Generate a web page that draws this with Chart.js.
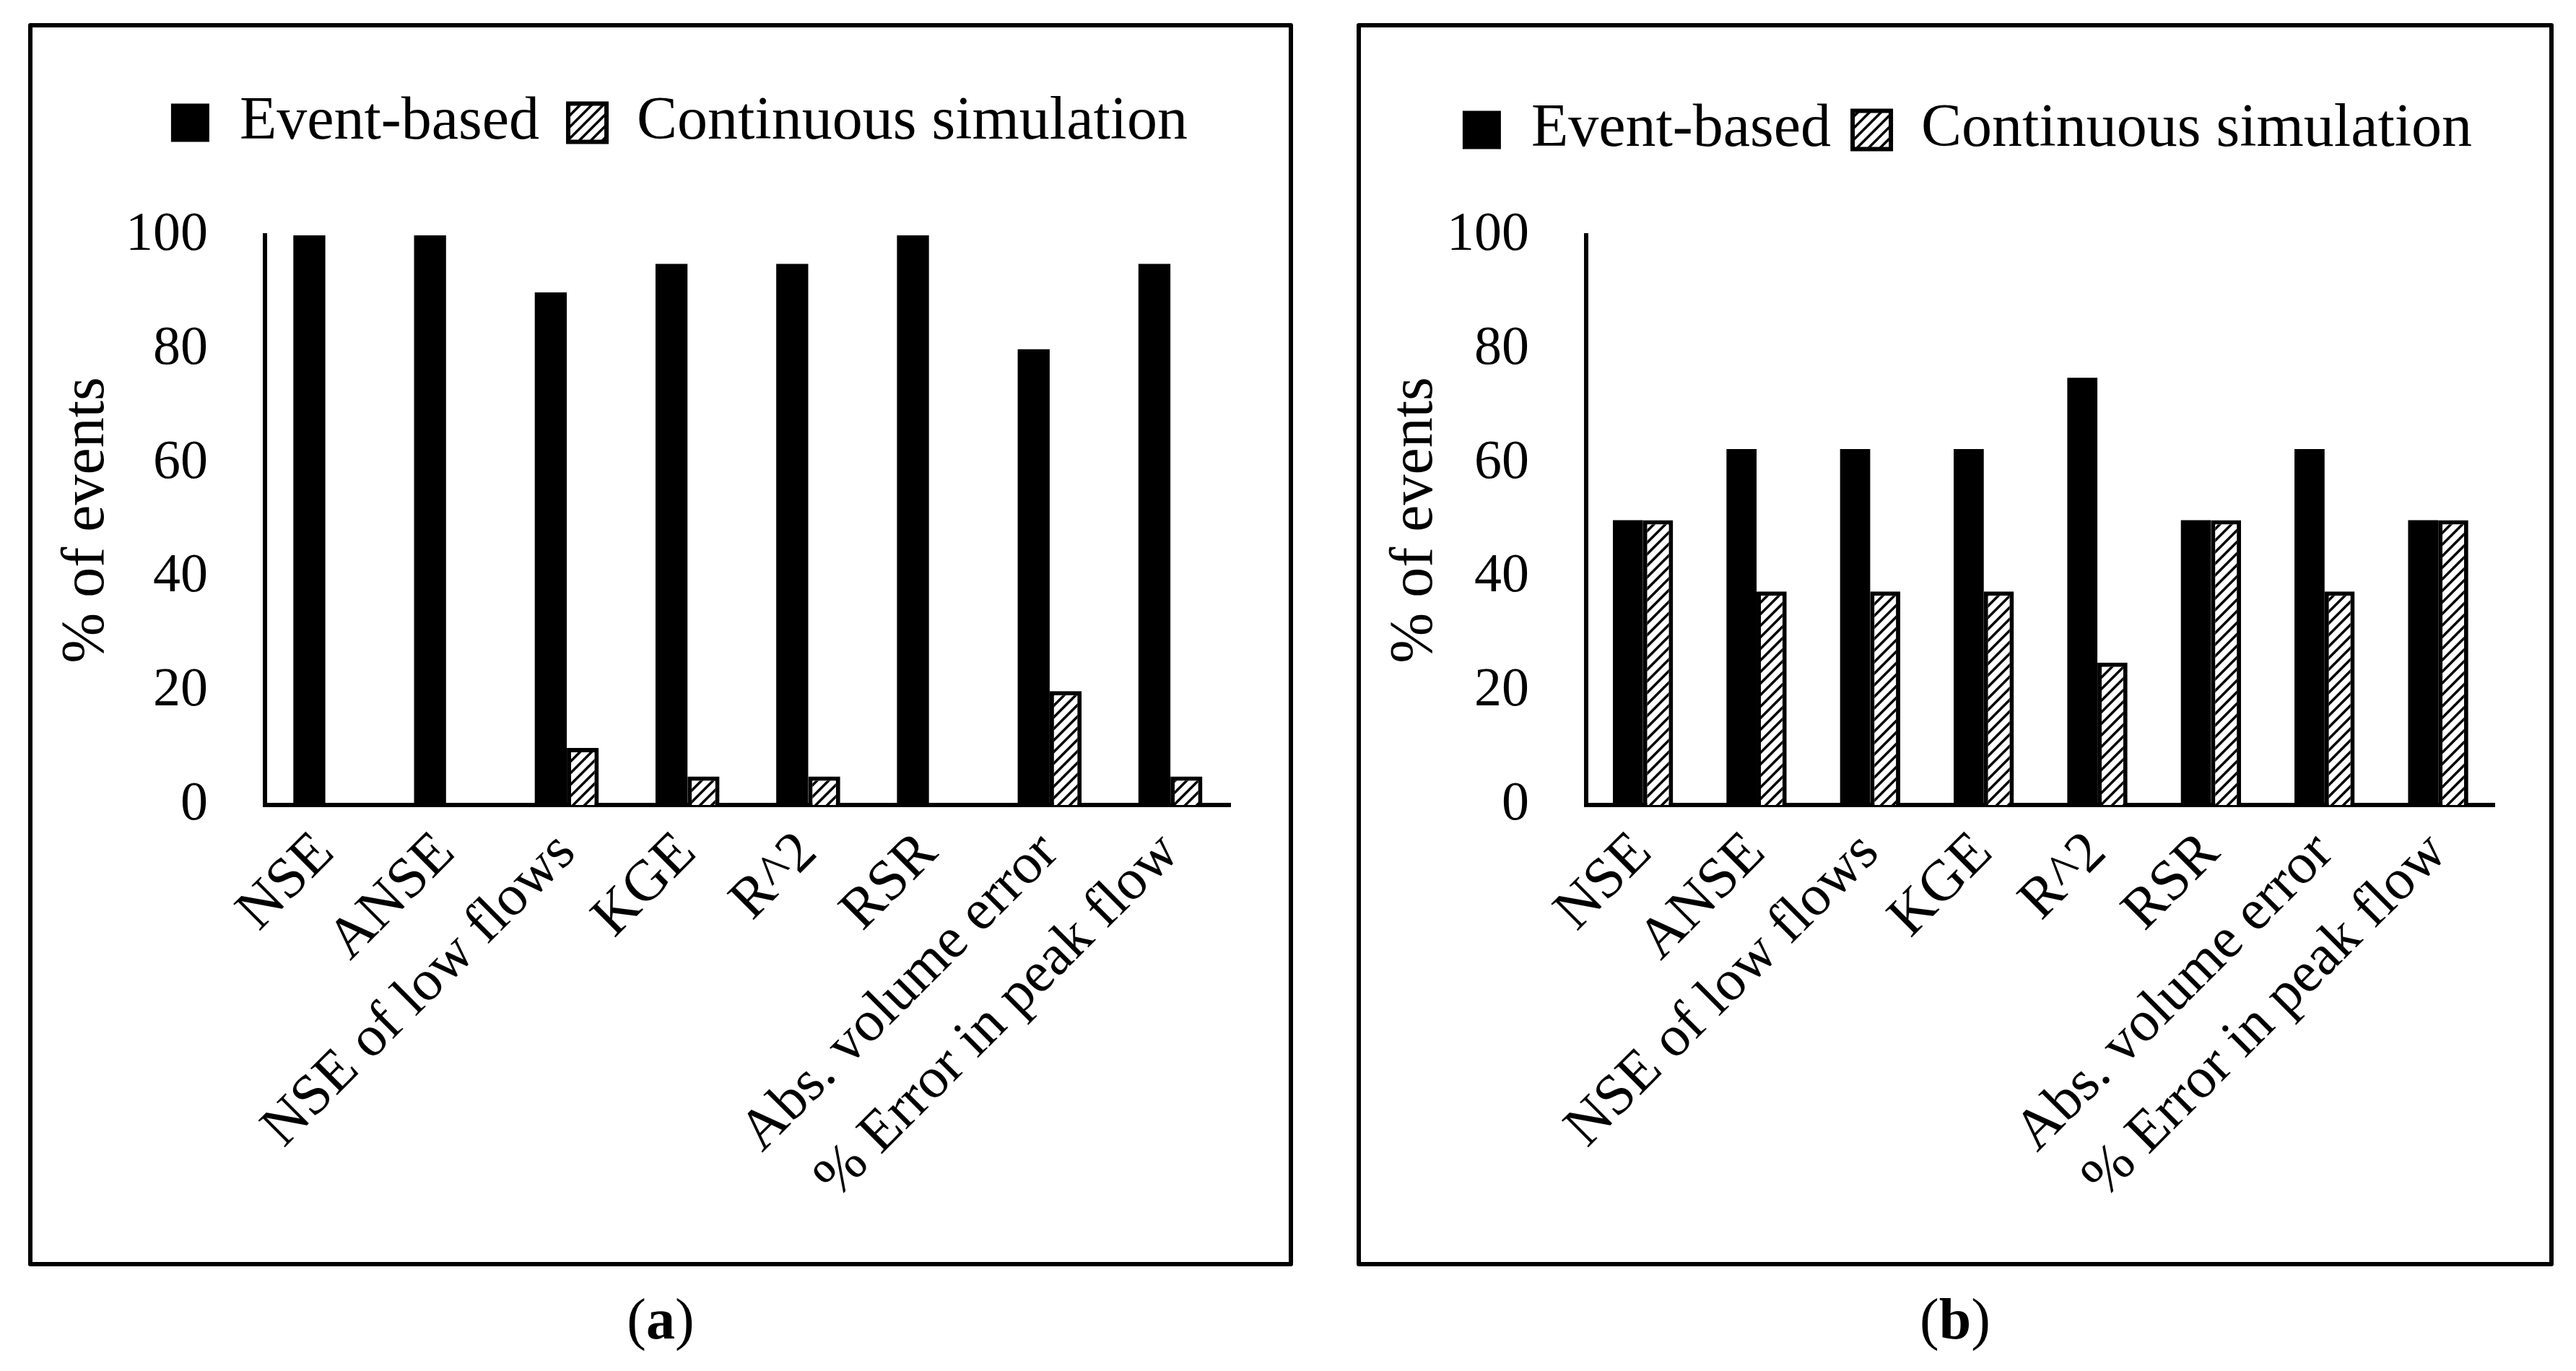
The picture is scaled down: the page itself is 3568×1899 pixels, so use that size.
<!DOCTYPE html>
<html>
<head>
<meta charset="utf-8">
<script src="https://cdn.jsdelivr.net/npm/chart.js@4.4.1/dist/chart.umd.min.js"></script>
<style>
  body { margin: 0; width: 3568px; height: 1899px; background: #fff; overflow: hidden; position: relative; font-family: 'Liberation Serif', serif; }
  .panel { position: absolute; box-sizing: border-box; border: 6px solid #000; border-radius: 3px; }
  .cap { position: absolute; text-align: center; font-size: 80px; line-height: 94px; color: #000; }
  canvas { position: absolute; }
</style>
</head>
<body>
<div class="panel" style="left:39px;top:32px;width:1752px;height:1722px"></div>
<div class="panel" style="left:1879px;top:32px;width:1658px;height:1722px"></div>
<canvas id="chartA" width="1664" height="1660" style="left:45px;top:88px;width:1664px;height:1660px"></canvas>
<canvas id="chartB" width="1580" height="1640" style="left:1885px;top:108px;width:1580px;height:1640px"></canvas>
<div class="cap" style="left:39px;top:1780px;width:1752px">(<b>a</b>)</div>
<div class="cap" style="left:1879px;top:1780px;width:1658px">(<b>b</b>)</div>
<script>
// categories and values
const categories = ["NSE", "ANSE", "NSE of low flows", "KGE", "R^2", "RSR", "Abs. volume error", "% Error in peak flow"];
const eventA = [100, 100, 90, 95, 95, 100, 80, 95];
const continuousA = [0, 0, 10, 5, 5, 0, 20, 5];
const eventB = [50, 62.5, 62.5, 62.5, 75, 50, 62.5, 50];
const continuousB = [50, 37.5, 37.5, 37.5, 25, 50, 37.5, 50];

Chart.defaults.font.family = "'Liberation Serif', 'Times New Roman', serif";
Chart.defaults.color = "#000";

// upward diagonal hatch like the Excel pattern fill
function makeHatch() {
    let c = document.createElement("canvas");
    c.width = 16;
    c.height = 16;
    let g = c.getContext("2d");
    g.fillStyle = "#fff";
    g.fillRect(0, 0, 16, 16);
    g.strokeStyle = "#000";
    g.lineWidth = 3.5;
    g.beginPath();
    g.moveTo(-4, 20); g.lineTo(20, -4);
    g.moveTo(-4, 4); g.lineTo(4, -4);
    g.moveTo(12, 20); g.lineTo(20, 12);
    g.stroke();
    return g.createPattern(c, "repeat");
}
const hatch = makeHatch();

// extra room under the legend, and a nudge to the right
function legendSpace(extra, shift) {
    return {
        id: "legendSpace",
        beforeInit(chart) {
            const fit = chart.legend.fit;
            chart.legend.fit = function () {
                fit.call(this);
                this.height += extra;
                this.lineWidths[0] -= 2 * shift;
            };
        }
    };
}

function makeChart(id, events, continuous, s) {
    const ctx = document.getElementById(id).getContext("2d");
    return new Chart(ctx, {
        type: "bar",
        data: {
            labels: categories,
            datasets: [
                {
                    label: "Event-based",
                    data: events,
                    backgroundColor: "#000",
                    borderWidth: 0
                },
                {
                    label: "Continuous simulation",
                    data: continuous,
                    backgroundColor: hatch,
                    borderColor: "#000",
                    borderWidth: 6
                }
            ]
        },
        options: {
            responsive: false,
            animation: false,
            devicePixelRatio: 1,
            categoryPercentage: 0.53,
            barPercentage: 1.0,
            plugins: {
                legend: {
                    position: "top",
                    labels: {
                        boxWidth: 53,
                        boxHeight: 53,
                        padding: s.legendPad,
                        color: "#000",
                        font: { size: 84 }
                    }
                },
                tooltip: { enabled: false }
            },
            scales: {
                x: {
                    grid: { display: false, drawTicks: false },
                    border: { display: true, color: "#000", width: 6 },
                    ticks: {
                        autoSkip: false,
                        minRotation: 45,
                        maxRotation: 45,
                        padding: 20,
                        color: "#000",
                        font: { size: 80 }
                    },
                    afterFit: function (scale) { scale.height = s.xHeight; }
                },
                y: {
                    min: 0,
                    max: 100,
                    grid: { display: false, drawTicks: false },
                    border: { display: true, color: "#000", width: 6 },
                    ticks: {
                        stepSize: 20,
                        padding: 79,
                        color: "#000",
                        font: { size: 76 }
                    },
                    title: {
                        display: true,
                        text: "% of events",
                        color: "#000",
                        font: { size: 84 },
                        padding: { top: 26, bottom: 0 }
                    },
                    afterFit: function (scale) { scale.width = s.yWidth; }
                }
            }
        },
        plugins: [legendSpace(s.extra, s.shift)]
    });
}

makeChart("chartA", eventA, continuousA, { xHeight: 633, yWidth: 322, legendPad: 40, extra: 104, shift: 64 });
makeChart("chartB", eventB, continuousB, { xHeight: 633, yWidth: 312, legendPad: 30, extra: 94, shift: 50 });
</script>
</body>
</html>
